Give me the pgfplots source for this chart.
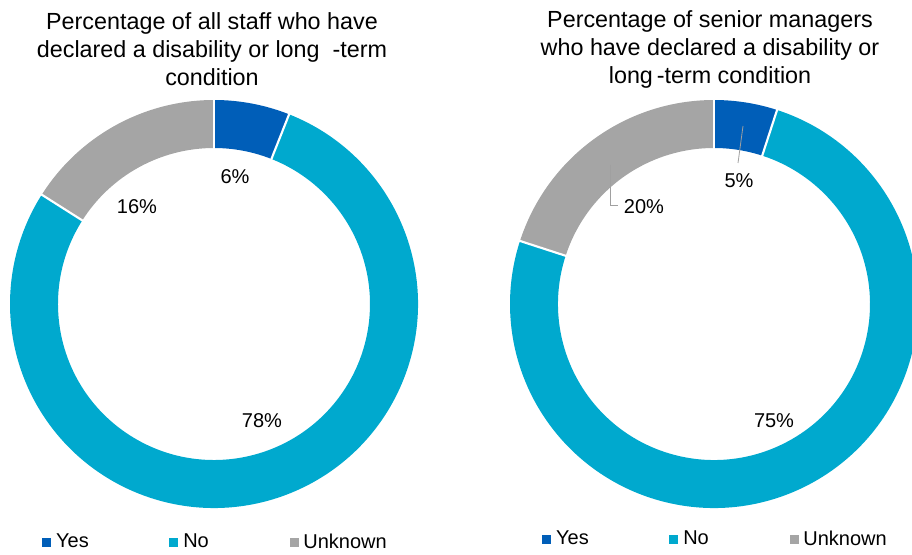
\documentclass[border=0pt]{standalone}
\usepackage{pgfplots}
\pgfplotsset{compat=1.18}
\usepackage{fontspec}
\setmainfont{Liberation Sans}
\definecolor{yescol}{RGB}{0,94,184}
\definecolor{nocol}{RGB}{0,169,206}
\definecolor{unkcol}{RGB}{165,165,165}
\definecolor{leadcol}{RGB}{160,160,160}
% ring slice: centre x, centre y, cumulative start (%), value (%), colour
\newcommand{\slice}[5]{%
  \fill[#5] (axis cs:#1,#2) ++({90-3.6*(#3)}:153pt)
    arc[start angle={90-3.6*(#3)}, end angle={90-3.6*(#3+#4)}, radius=153pt]
    -- ++({270-3.6*(#3+#4)}:36pt)
    arc[start angle={90-3.6*(#3+#4)}, end angle={90-3.6*(#3)}, radius=117pt] -- cycle;}
\newcommand{\sep}[3]{%
  \draw[white, line width=1.6pt] (axis cs:#1,#2) ++({90-3.6*(#3)}:115pt) -- ++({90-3.6*(#3)}:40pt);}
\newcommand{\titlefont}{\fontsize{17.5}{21}\selectfont}
\newcommand{\lblfont}{\fontsize{15}{18}\selectfont}
\pgfplotsset{donut/.style={width=342pt, height=415.5pt, scale only axis, hide axis,
  ymin=0, ymax=554, clip bounding box=upper bound, legend columns=3,
  legend style={draw=none, fill=none, inner xsep=0pt, inner ysep=0pt, anchor=west,
    font=\lblfont, cells={anchor=west},
    /tikz/every odd column/.append style={column sep=2pt},
    /tikz/every even column/.append style={column sep=58.5pt}}}}
\begin{document}
\begin{tikzpicture}
% ---------------- left: all staff (Yes 6, No 78, Unknown 16)
\begin{axis}[donut, at={(0pt,0pt)}, anchor=south west, xmin=0, xmax=456,
  legend style={at={(axis cs:42,12)}},
  legend image code/.code={\fill[#1] (0pt,-3pt) rectangle (6pt,3pt);}]
\addlegendimage{yescol}\addlegendentry{Yes}
\addlegendimage{nocol}\addlegendentry{No}
\addlegendimage{unkcol}\addlegendentry{Unknown}
\slice{214}{250}{0}{6}{yescol}
\slice{214}{250}{6}{78}{nocol}
\slice{214}{250}{84}{16}{unkcol}
\sep{214}{250}{0}\sep{214}{250}{6}\sep{214}{250}{84}
\node[font=\titlefont, align=center] at (axis cs:212,505)
  {Percentage of all staff who have\\declared a disability or long~~-term\\condition};
\node[font=\lblfont] at (axis cs:235,377) {6\%};
\node[font=\lblfont] at (axis cs:137,347) {16\%};
\node[font=\lblfont] at (axis cs:262,133) {78\%};
\end{axis}
% ---------------- right: senior managers (Yes 5, No 75, Unknown 20)
\begin{axis}[donut, at={(342pt,0pt)}, anchor=south west, xmin=456, xmax=912,
  legend style={at={(axis cs:542,15)}},
  legend image code/.code={\fill[#1] (0pt,-3pt) rectangle (6pt,3pt);}]
\addlegendimage{yescol}\addlegendentry{Yes}
\addlegendimage{nocol}\addlegendentry{No}
\addlegendimage{unkcol}\addlegendentry{Unknown}
\slice{714}{250}{0}{5}{yescol}
\slice{714}{250}{5}{75}{nocol}
\slice{714}{250}{80}{20}{unkcol}
\sep{714}{250}{0}\sep{714}{250}{5}\sep{714}{250}{80}
\node[font=\titlefont, align=center] at (axis cs:710,505)
  {Percentage of senior managers\\who have declared a disability or\\long\,-term condition};
\draw[leadcol, line width=0.6pt] (axis cs:743,428) -- (axis cs:738,391);
\draw[leadcol, line width=0.6pt] (axis cs:610,389) -- (axis cs:610,349) -- (axis cs:618,349);
\node[font=\lblfont] at (axis cs:739,373) {5\%};
\node[font=\lblfont] at (axis cs:644,347) {20\%};
\node[font=\lblfont] at (axis cs:774,133) {75\%};
\end{axis}
\pgfresetboundingbox
\useasboundingbox (0pt,0pt) rectangle (684pt,415.5pt);
\end{tikzpicture}
\end{document}
